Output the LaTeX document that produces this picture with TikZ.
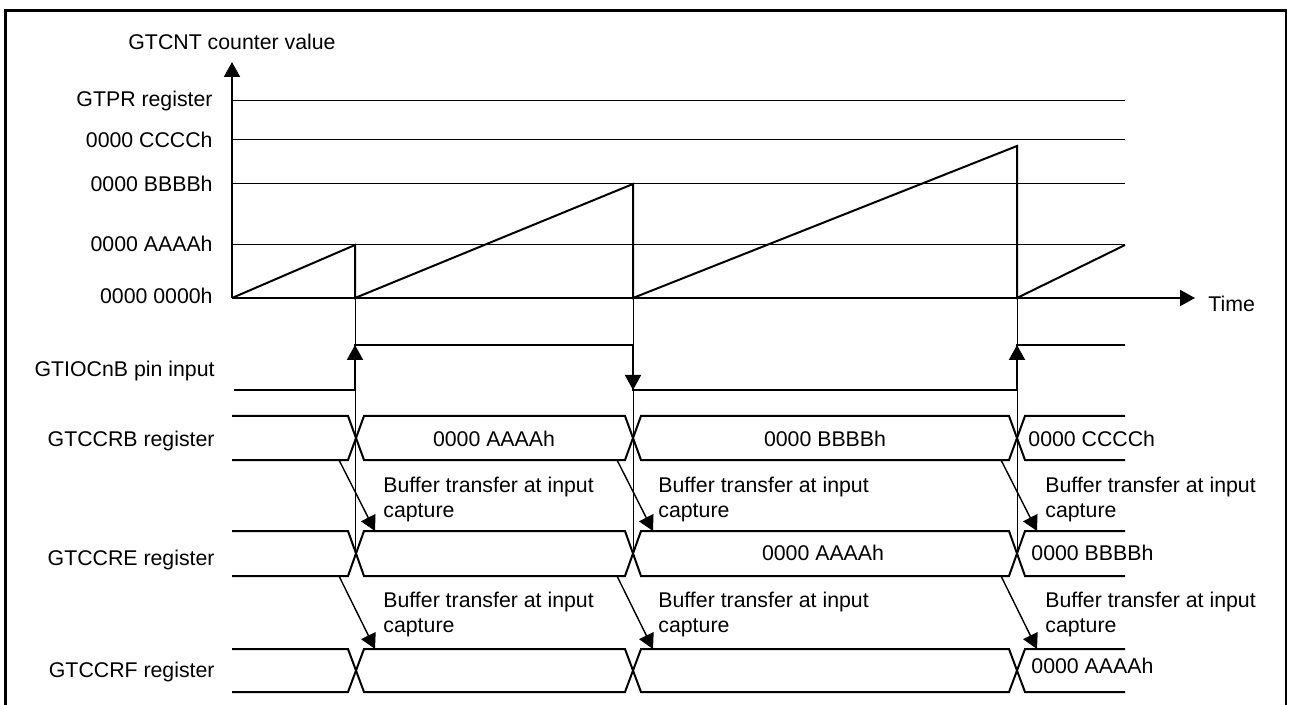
\documentclass[tikz,border=0pt]{standalone}
\usepackage{fontspec}
\setmainfont{Liberation Sans}
\usetikzlibrary{positioning,arrows.meta,calc}

\begin{document}
\begin{tikzpicture}[x=0.5pt,y=-0.5pt,>={Triangle[length=7.5pt,width=8pt]},
  sig/.style={line width=1pt},
  thin/.style={line width=0.5pt},
  lbl/.style={inner sep=0pt,font=\fontsize{10.65}{12.5}\selectfont},
  note/.style={lbl,align=left,anchor=base west}]
\useasboundingbox (0,0) rectangle (1290,705);
\draw[line width=1.4pt] (5.5,705) -- (5.5,10.5) -- (1286,10.5) -- (1286,705);

% counter axes
\coordinate (o) at (232,298);
\coordinate (ytop) at (232,62);
\coordinate (xend) at (1195,298);
\draw[sig,->] (o) -- (ytop);
\draw[sig,->] (o) -- (xend);
\node[lbl,anchor=base] (ylab) at (232,50) {GTCNT counter value};
\node[lbl,anchor=base west] (tlab) at (1208,312) {Time};

% level lines
\foreach \y/\t/\b [count=\i] in {101/GTPR register/107,140/0000 CCCCh/148,184/0000 BBBBh/192,245/0000 AAAAh/252}{
  \draw[thin] (232,\y) -- (1125,\y);
  \node[lbl,anchor=base east] (lev\i) at (213,\b) {\t};
}
\node[lbl,anchor=base east] (lev0) at (213,304) {0000 0000h};

% sawtooth
\draw[sig] (o) -- (355,245) -- (355,298) -- (633,184) -- (633,298) -- (1017,146) -- (1017,298) -- (1125,245);

% capture instants
\foreach \x in {355,633,1017} \draw[thin] (\x,298) -- (\x,553);

% pin input
\foreach \x/\n in {355/a,633/b,1017/c}{
  \coordinate (lo\n) at (\x,390);
  \coordinate (hi\n) at (\x,345);
}
\draw[sig] (234,390) -- (loa) -- (hia) -- (hib) -- (lob) -- (loc) -- (hic) -- (1125,345);
\draw[sig,->] (loa) -- (hia);
\draw[sig,->] (hib) -- (lob);
\draw[sig,->] (loc) -- (hic);
\node[lbl,anchor=base east] (pin) at (215,377) {GTIOCnB pin input};

% registers
\foreach \T/\B/\nm/\lb in {416/460/B/446,531/576/E/565,649/692/F/677}{
  \draw[sig] (232,\T) -- (348,\T) -- (364,\B) -- (625,\B) -- (641,\T) -- (1009,\T) -- (1025,\B) -- (1125,\B);
  \draw[sig] (232,\B) -- (348,\B) -- (364,\T) -- (625,\T) -- (641,\B) -- (1009,\B) -- (1025,\T) -- (1125,\T);
  \node[lbl,anchor=base east] (reg\nm) at (215,\lb) {GTCCR\nm\ register};
}
\node[lbl,anchor=base] (vB1) at (494,446) {0000 AAAAh};
\node[lbl,anchor=base] (vB2) at (825,446) {0000 BBBBh};
\node[lbl,anchor=base west] (vB3) at (1028,446) {0000 CCCCh};
\node[lbl,anchor=base] (vE2) at (823,560) {0000 AAAAh};
\node[lbl,anchor=base west] (vE3) at (1031,560) {0000 BBBBh};
\node[lbl,anchor=base west] (vF3) at (1031,673) {0000 AAAAh};

% buffer transfers
\foreach \x/\nx [count=\i] in {355/383,633/658,1017/1045}
  \foreach \t/\b/\bl [count=\j] in {460/531/517,576/649/632}{
    \coordinate (s\i\j) at (\x-16,\t);
    \coordinate (e\i\j) at (\x+20,\b);
    \draw[line width=0.7pt,->] (s\i\j) -- (e\i\j);
    \node[note] (n\i\j) at (\nx,\bl) {Buffer transfer at input\\capture};
  }
\end{tikzpicture}
\end{document}
